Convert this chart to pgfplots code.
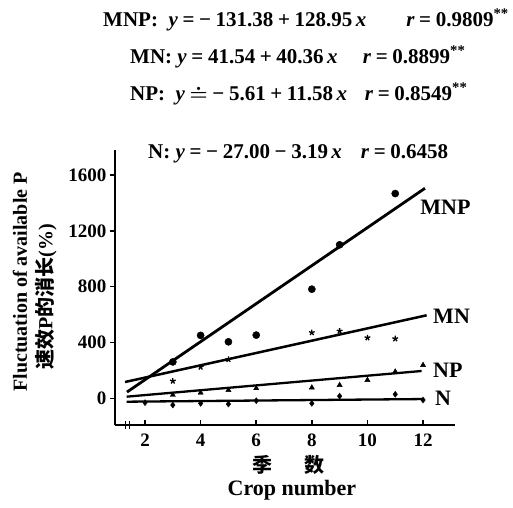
\documentclass[border=0pt]{standalone}
\usepackage{fontspec}
\usepackage{pgfplots}
\pgfplotsset{compat=1.18}
\setmainfont{Liberation Serif}
\newfontfamily\cjk{Noto Sans CJK SC}
\newcommand\g{\hspace{0.22em}}

% series
\pgfplotstableread{
x y
3 261
4 451
5 405
6 453
8 782
9 1100
11 1467
}\mnp
\pgfplotstableread{
x y
3 124
4 224
5 279
8 471
9 482
10 434
11 427
}\mn
\pgfplotstableread{
x y
3 24
4 40
5 59
6 72
8 77
9 95
10 131
11 191
12 238
}\np
\pgfplotstableread{
x y
2 -31
3 -48
4 -36
5 -41
6 -17
8 -36
9 16
11 29
12 -12
}\nn

\begin{document}
\begin{tikzpicture}[x=1pt,y=1pt]
\useasboundingbox (0,0) rectangle (513,-507);
\begin{axis}[
  at={(115pt,-425pt)}, anchor=south west,
  scale only axis, width=340pt, height=275pt,
  xmin=0.92, xmax=13.15, ymin=-191, ymax=1779,
  axis x line*=bottom, axis y line*=left,
  axis line style={line width=1.8pt},
  xtick={2,4,...,12}, ytick={0,400,...,1600},
  tick align=outside, major tick length=5pt,
  tick style={line width=1.5pt, black},
  x tick style={yshift=5pt},
  /pgf/number format/assume math mode=true,
  /pgf/number format/1000 sep={},
  ticklabel style={font=\fontsize{19}{21}\selectfont\bfseries},
  clip=false,
]
\addplot[black, line width=2.8pt] coordinates {(1.35,45) (12.07,1505)};
\addplot[black, line width=2.5pt] coordinates {(1.28,117) (12.13,595)};
\addplot[black, line width=2.3pt] coordinates {(1.34,12) (11.95,196)};
\addplot[black, line width=2.3pt] coordinates {(1.34,-24) (12,-5)};
\addplot[only marks, mark=*, mark size=3.6pt, black] table {\mnp};
\addplot[only marks, mark=star, mark size=3pt, black, mark options={line width=1.3pt}] table {\mn};
\addplot[only marks, mark=triangle*, mark size=3pt, black] table {\np};
\addplot[only marks, mark=diamond*, mark size=3pt, black] table {\nn};
\draw[line width=1.3pt] (axis cs:1.31,-220) -- (axis cs:1.31,-160);
\draw[line width=1.3pt] (axis cs:1.44,-220) -- (axis cs:1.44,-160);
\begin{scope}[every node/.style={font=\fontsize{22}{24}\selectfont\bfseries, anchor=west, inner sep=0pt}]
\node at (axis cs:11.9,1372) {MNP};
\node at (axis cs:12.36,590) {MN};
\node at (axis cs:12.36,203) {NP};
\node at (axis cs:12.43,0) {N};
\end{scope}
\end{axis}
\begin{scope}[every node/.style={font=\fontsize{21}{23}\selectfont\bfseries\boldmath, anchor=west, inner sep=0pt}]
\node at (103,-20) {MNP:\ \ \textit{y}\g=\g−\g131.38\g+\g128.95\,\textit{x}\hspace{1.9em}\textit{r}\g=\g0.9809\textsuperscript{**}};
\node at (130,-57) {MN:\ \textit{y}\g=\g41.54\g+\g40.36\,\textit{x}\hspace{1.2em}\textit{r}\g=\g0.8899\textsuperscript{**}};
\node at (130,-94) {NP:\ \ \textit{y}\g$\doteq$\g−\g5.61\g+\g11.58\,\textit{x}\hspace{0.85em}\textit{r}\g=\g0.8549\textsuperscript{**}};
\node at (148,-154) {N:\ \textit{y}\g=\g−\g27.00\g−\g3.19\,\textit{x}\hspace{0.9em}\textit{r}\g=\g0.6458};
\end{scope}
\node[rotate=90, font=\fontsize{20}{22}\selectfont\bfseries] at (20,-282) {Fluctuation of available P};
\node[rotate=90, font=\fontsize{20}{22}\selectfont\bfseries] at (46,-297) {{\cjk 速效}P{\cjk 的消长}(\%)};
\node[font=\fontsize{20}{22}\selectfont\bfseries] at (288,-465) {{\cjk 季}\hspace{1.6em}{\cjk 数}};
\node[font=\fontsize{22}{24}\selectfont\bfseries] at (292,-490) {Crop number};
\end{tikzpicture}
\end{document}
